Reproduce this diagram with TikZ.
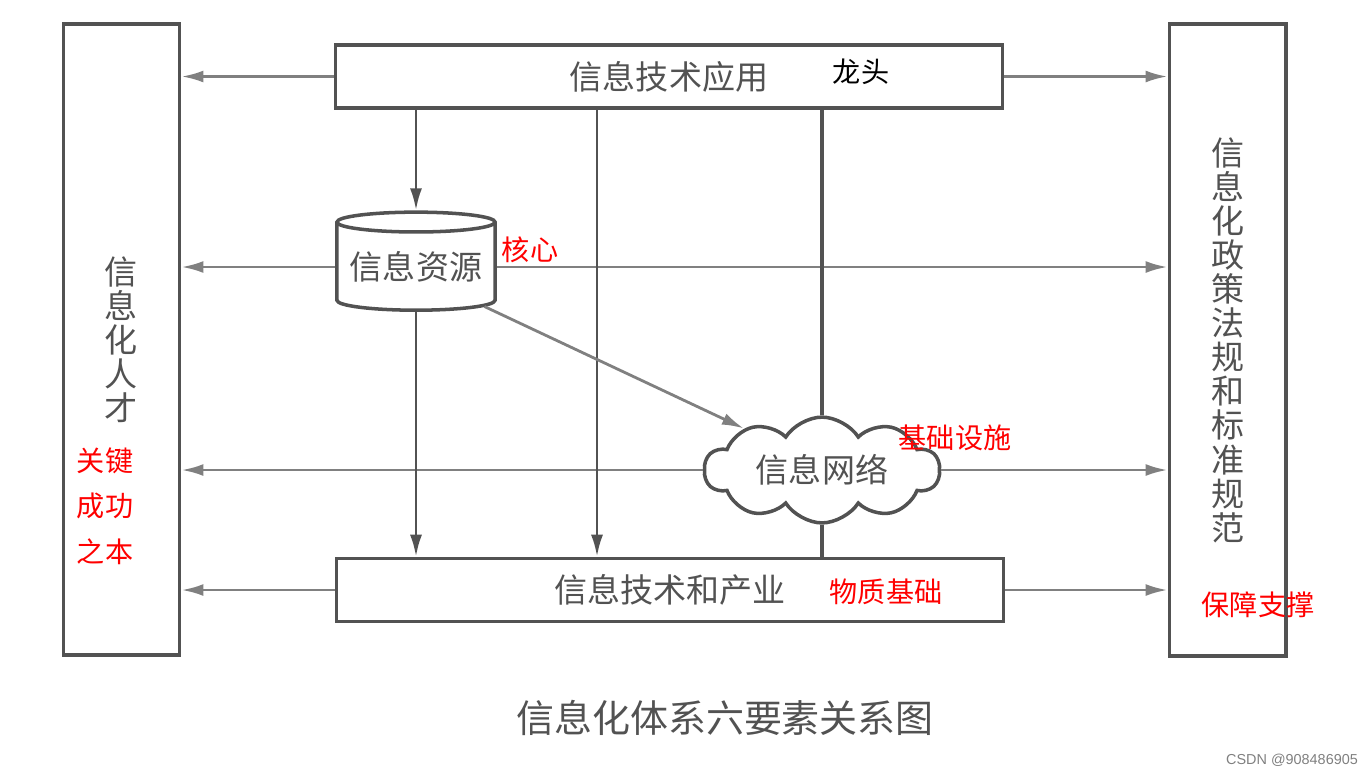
\documentclass[tikz,border=0pt]{standalone}
\usepackage{fontspec}
\usepackage{xcolor}
\usetikzlibrary{positioning,calc,arrows.meta,shapes.geometric,shapes.symbols}
\setmainfont{Liberation Sans}
\newfontfamily\cjk{Noto Sans CJK SC}
\definecolor{ink}{gray}{0.32}
\definecolor{wire}{gray}{0.5}

\begin{document}
\begin{tikzpicture}[x=0.01cm, y=-0.01cm,
  font=\cjk\fontsize{9.4}{9.7}\selectfont,
  box/.style={draw=ink, line width=1pt, text=ink, minimum width=6.67cm,
              minimum height=0.63cm, inner sep=0pt},
  tall/.style={draw=ink, line width=1.1pt, text=ink, minimum width=1.16cm,
               minimum height=6.31cm, align=center, inner sep=0pt},
  note/.style={text=red, font=\cjk\fontsize{8}{13}\selectfont, inner sep=0pt, align=left},
  arr/.style={draw=wire, line width=0.8pt, -{Latex[length=2.2mm, width=1.2mm]}},
  link/.style={draw=ink, line width=0.9pt}]
\useasboundingbox (0,0) rectangle (1368,775);
\node[tall] (talent) at (121.5,339.5) {信\\息\\化\\人\\才};
\node[tall] (policy) at (1227.5,340) {信\\息\\化\\政\\策\\法\\规\\和\\标\\准\\规\\范};
\node[box] (app) at (669,76.5) {信息技术应用};
\node[box] (ind) at (670,590) {信息技术和产业};
\node[cylinder, shape border rotate=90, aspect=0.15, draw=ink, line width=1pt, text=ink,
      minimum width=1.58cm, minimum height=0.98cm, inner sep=0pt] (res) at (416,267) {信息资源};
\node[cloud, cloud puffs=10, cloud puff arc=115, aspect=2.4, draw=ink, line width=1pt, text=ink,
      minimum width=2.35cm, minimum height=0.95cm, inner sep=0pt] (net) at (822,470) {信息网络};
\coordinate (mid) at (597,0);
\node[note, text=black] (head) at (861,72) {龙头};
\node[note] (core) at (530,250) {核心};
\node[note] (base) at (955,438) {基础设施};
\node[note] (mat) at (886,592) {物质基础};
\node[note] (key) at (105,506) {关键\\成功\\之本};
\node[note] (sup) at (1258,605) {保障支撑};
\draw[arr] (app.west) -- (app.west -| talent.east);
\draw[arr] (res.west) -- (res.west -| talent.east);
\draw[arr] (net.west) -- (net.west -| talent.east);
\draw[arr] (ind.west) -- (ind.west -| talent.east);
\draw[arr] (app.east) -- (app.east -| policy.west);
\draw[arr] (res.east) -- (res.east -| policy.west);
\draw[arr] (net.east) -- (net.east -| policy.west);
\draw[arr] (ind.east) -- (ind.east -| policy.west);
\draw[arr, draw=ink] (res.north |- app.south) -- (res.north);
\draw[arr, draw=ink] (res.south) -- (res.south |- ind.north);
\draw[arr, draw=ink] (mid |- app.south) -- (mid |- ind.north);
\draw[link] (net.north |- app.south) -- (net.north);
\draw[link] (net.south) -- (net.south |- ind.north);
\draw[arr] (res.-30) -- (net.152);
\node[text=ink, font=\cjk\fontsize{10.8}{12}\selectfont] (title) at (725,718) {信息化体系六要素关系图};
\node[text=gray, font=\fontsize{4.1}{5}\selectfont] (mark) at (1292,760) {CSDN @908486905};
\end{tikzpicture}
\end{document}
